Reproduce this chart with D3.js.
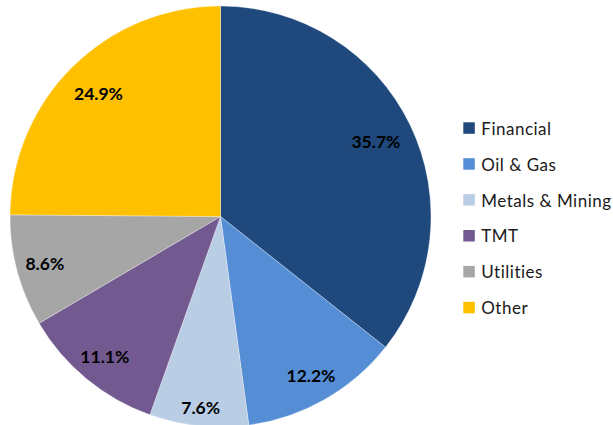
<!DOCTYPE html>
<html>
<head>
<meta charset="utf-8">
<script src="https://cdn.jsdelivr.net/npm/d3@7"></script>
<style>
  html, body { margin: 0; padding: 0; background: #fff; }
  svg { display: block; }
</style>
</head>
<body>
<svg id="chart" width="613" height="425"></svg>
<script>
// Sector breakdown (share of total, %)
const sectors = ["Financial", "Oil & Gas", "Metals & Mining", "TMT", "Utilities", "Other"];
const shares = [35.7, 12.2, 7.6, 11.1, 8.6, 24.9];
const sectorColors = ["#1F497D", "#558ED5", "#B9CDE5", "#725990", "#A6A6A6", "#FFC000"];

// radial placement of each value label, as a fraction of the pie radius
const labelRadius = [0.82, 0.868, 0.91, 0.863, 0.864, 0.823];

const width = 613, height = 425;
const cx = 220.5, cy = 216.5, radius = 210.5;

const svg = d3.select("#chart");
const data = sectors.map((name, i) => ({ name, value: shares[i], color: sectorColors[i], lr: labelRadius[i] }));

const pie = d3.pie().value(d => d.value).sort(null);
const arc = d3.arc().innerRadius(0).outerRadius(radius);
const arcs = pie(data);

const g = svg.append("g").attr("transform", `translate(${cx},${cy})`);

g.selectAll("path.slice")
  .data(arcs)
  .enter().append("path")
  .attr("class", "slice")
  .attr("d", arc)
  .attr("fill", d => d.data.color)
  .attr("stroke", "#ffffff")
  .attr("stroke-width", 0.5)
  .attr("stroke-opacity", 0.6);

g.selectAll("text.value")
  .data(arcs)
  .enter().append("text")
  .attr("class", "value")
  .attr("transform", d => {
    const r = radius * d.data.lr;
    const a = d3.arc().innerRadius(r).outerRadius(r);
    const [x, y] = a.centroid(d);
    return `translate(${x},${y})`;
  })
  .attr("text-anchor", "middle")
  .attr("dominant-baseline", "central")
  .style("font-family", "Lato, 'Open Sans', sans-serif")
  .style("font-weight", "bold")
  .style("font-size", "17.5px")
  .attr("fill", "#000")
  .text(d => d.data.value.toFixed(1) + "%");

// legend
const legend = svg.append("g").attr("transform", "translate(463.3,122.3)");
const rowStep = 35.9;
const item = legend.selectAll("g.item")
  .data(data)
  .enter().append("g")
  .attr("class", "item")
  .attr("transform", (d, i) => `translate(0,${i * rowStep})`);

item.append("rect")
  .attr("width", 11.5)
  .attr("height", 11.5)
  .attr("fill", d => d.color);

item.append("text")
  .attr("x", 18)
  .attr("y", 5.9)
  .attr("dominant-baseline", "central")
  .style("font-family", "Lato, 'Open Sans', sans-serif")
  .style("font-size", "17px")
  .style("letter-spacing", "0.5px")
  .attr("fill", "#1a1a1a")
  .text(d => d.name);
</script>
</body>
</html>
